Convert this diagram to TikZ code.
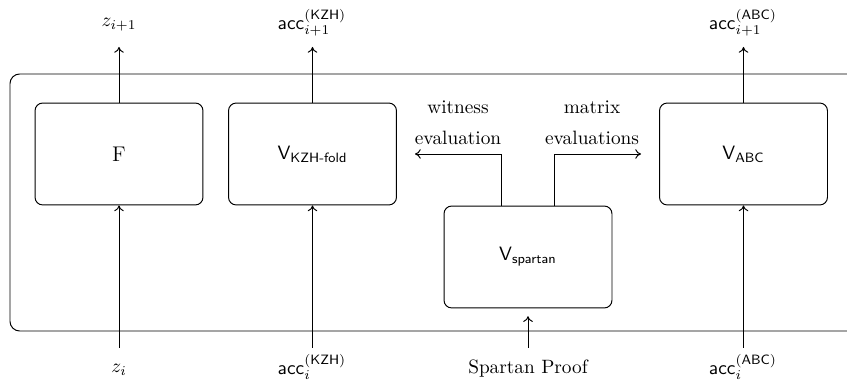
\documentclass[tikz,border=0pt]{standalone}
\usepackage{amsmath}
\usetikzlibrary{arrows.meta}
\begin{document}
\begin{tikzpicture}[x=0.518pt,y=-0.518pt,
  box/.style={draw,rounded corners=4pt,minimum width=87pt,minimum height=52.8pt,inner sep=0pt,line width=0.5pt},
  arr/.style={-{To[length=3pt,width=5pt]},line width=0.5pt},
  lbl/.style={inner sep=0pt}]
\useasboundingbox (0,0) rectangle (847,383);
\draw[rounded corners=5pt,line width=0.5pt] (10,74) rectangle (860,331);
\node[box] (F) at (119,154) {\fontsize{11}{13}\selectfont F};
\node[box] (kzh) at (312.5,154) {$\mathsf{V}_{\textsf{KZH-fold}}$};
\node[box] (abc) at (743.5,154) {$\mathsf{V}_{\mathsf{ABC}}$};
\node[box] (sp) at (528,257) {$\mathsf{V}_{\mathsf{spartan}}$};
% top labels
\node[lbl] (zo) at (119,25) {$z_{i+1}$};
\node[lbl] (ko) at (312,23) {$\mathsf{acc}_{i+1}^{(\mathsf{KZH})}$};
\node[lbl] (ao) at (743,23) {$\mathsf{acc}_{i+1}^{(\mathsf{ABC})}$};
% bottom labels
\node[lbl] (zi) at (119,370) {$z_{i}$};
\node[lbl] (ki) at (312,367) {$\mathsf{acc}_{i}^{(\mathsf{KZH})}$};
\node[lbl] (spi) at (528,369) {Spartan Proof};
\node[lbl] (ai) at (743,367) {$\mathsf{acc}_{i}^{(\mathsf{ABC})}$};
% middle labels
\node[lbl] (w1) at (458,107) {witness};
\node[lbl] (w2) at (458,138) {evaluation};
\node[lbl] (m1) at (592,107) {matrix};
\node[lbl] (m2) at (592,138) {evaluations};
% coordinates
\coordinate (topy) at (0,47);
\coordinate (boty) at (0,348);
\coordinate (wx) at (501,154);
\coordinate (wl) at (415,154);
\coordinate (mx) at (554,154);
\coordinate (mr) at (641,154);
% arrows
\draw[arr] (F.north) -- (F.north |- topy);
\draw[arr] (kzh.north) -- (kzh.north |- topy);
\draw[arr] (abc.north) -- (abc.north |- topy);
\draw[arr] (F.south |- boty) -- (F.south);
\draw[arr] (kzh.south |- boty) -- (kzh.south);
\draw[arr] (abc.south |- boty) -- (abc.south);
\draw[arr] (sp.south |- boty) -- ([yshift=-4pt]sp.south);
\draw[arr] (sp.north -| wx) -- (wx) -- (wl);
\draw[arr] (sp.north -| mx) -- (mx) -- (mr);
\end{tikzpicture}
\end{document}
